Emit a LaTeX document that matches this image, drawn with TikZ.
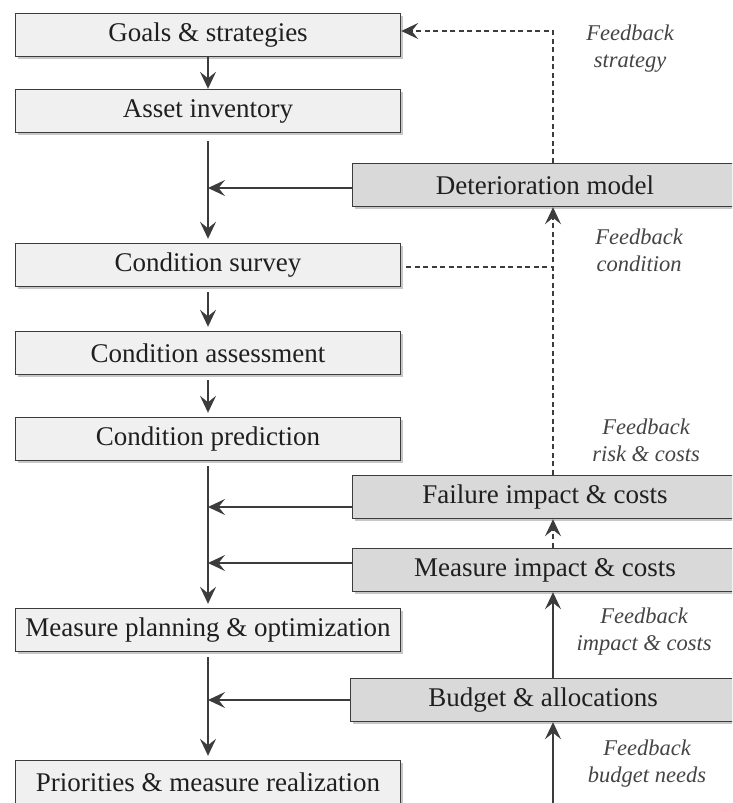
\documentclass[tikz,border=0pt]{standalone}
\usepackage{fontspec}
\setmainfont{Liberation Serif}
\usetikzlibrary{arrows.meta,shadows,positioning}

\definecolor{edge}{HTML}{3C3C3C}
\definecolor{lightbox}{HTML}{F0F0F0}
\definecolor{darkbox}{HTML}{D9D9D9}
\definecolor{labelgray}{HTML}{444444}

\tikzset{
  base/.style={draw=edge, line width=1.4pt, minimum width=385pt, minimum height=43pt,
    inner sep=0pt, text=black!88, font=\fontsize{27}{32}\selectfont,
    drop shadow={shadow xshift=2.5pt, shadow yshift=-2.5pt, fill=black, opacity=0.22}},
  mainbox/.style={base, fill=lightbox},
  sidebox/.style={base, fill=darkbox},
  flow/.style={draw=edge, line width=1.4pt, -{Stealth[length=17pt,width=16pt,inset=6.5pt]}},
  fbdash/.style={flow, dash pattern=on 5pt off 3.5pt, line width=1.1pt},
  fbline/.style={draw=edge, line width=1.1pt, dash pattern=on 5pt off 3.5pt},
  fblabel/.style={align=center, text=labelgray, font=\fontsize{22.5}{27}\selectfont\itshape}
}

\begin{document}
\begin{tikzpicture}[x=1pt,y=-1pt]
\path[use as bounding box, clip] (0,0) rectangle (732,803);

% main process column
\node[mainbox] (goals)   at (208,35)  {Goals \& strategies};
\node[mainbox] (asset)   at (208,111) {Asset inventory};
\node[mainbox] (survey)  at (208,265) {Condition survey};
\node[mainbox] (assess)  at (208,353) {Condition assessment};
\node[mainbox] (predict) at (208,439) {Condition prediction};
\node[mainbox] (plan)    at (208,630) {Measure planning \& optimization};
\node[mainbox] (prio)    at (208,782) {Priorities \& measure realization};

% supporting models
\node[sidebox] (deter)   at (545,185) {Deterioration model};
\node[sidebox] (failure) at (545,497) {Failure impact \& costs};
\node[sidebox] (measure) at (545,570) {Measure impact \& costs};
\node[sidebox] (budget)  at (543,700) {Budget \& allocations};

% feedback column and its free lower end
\coordinate (fb) at (553,0);
\coordinate (fbin) at (553,805);

% main flow
\draw[flow] (goals) -- (asset);
\draw[flow, shorten <=8pt, shorten >=4pt] (asset) -- (survey);
\draw[flow, shorten <=5pt, shorten >=4pt] (survey) -- (assess);
\draw[flow, shorten <=5pt, shorten >=4pt] (assess) -- (predict);
\draw[flow, shorten <=5pt, shorten >=4pt] (predict) -- (plan);
\draw[flow, shorten <=5pt, shorten >=4pt] (plan) -- (prio);

% inputs from the models into the main flow
\draw[flow] ([yshift=-3pt]deter.west) -- ([yshift=-3pt]deter.west -| goals);
\draw[flow] ([yshift=-10pt]failure.west) -- ([yshift=-10pt]failure.west -| goals);
\draw[flow] ([yshift=7pt]measure.west) -- ([yshift=7pt]measure.west -| goals);
\draw[flow] (budget.west) -- (budget.west -| goals);

% feedback loops
\draw[flow, line width=1.1pt] (fbin) -- (budget.south -| fb);
\draw[flow, line width=1.1pt] (budget.north -| fb) -- (measure.south -| fb);
\draw[fbdash] (measure.north -| fb) -- (failure.south -| fb);
\draw[fbdash] (failure.north -| fb) -- (deter.south -| fb);
\draw[fbline] ([xshift=5pt,yshift=-2pt]survey.east) -- ([yshift=-2pt]survey.east -| fb);
\draw[fbdash] (deter.north -| fb) |- ([yshift=4pt]goals.east);

% feedback labels
\node[fblabel] (lstrat) at (630,49)  {Feedback\\strategy};
\node[fblabel] (lcond)  at (639,250) {Feedback\\condition};
\node[fblabel] (lrisk)  at (646,440) {Feedback\\risk \& costs};
\node[fblabel] (limp)   at (644,632) {Feedback\\impact \& costs};
\node[fblabel] (lbud)   at (647,764) {Feedback\\budget needs};
\end{tikzpicture}
\end{document}
